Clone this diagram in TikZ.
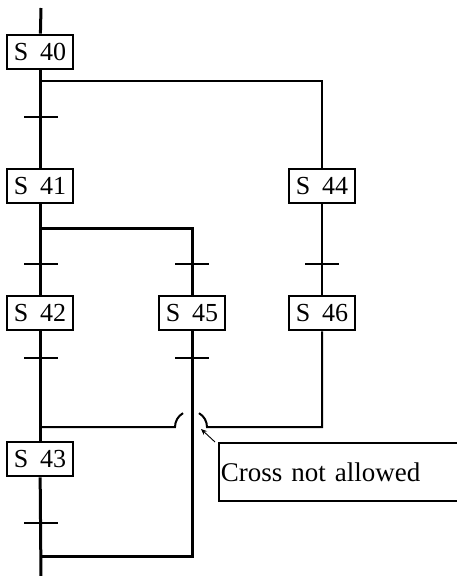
\documentclass[tikz,border=0pt]{standalone}
\usepackage{fontspec}
\setmainfont{Liberation Serif}
\usetikzlibrary{arrows.meta,positioning,calc}

\begin{document}
\begin{tikzpicture}[x=1pt, y=-1pt,
    stepbox/.style={draw, line width=2.8pt, fill=white, minimum width=66pt, minimum height=34pt, inner sep=2pt, font=\fontsize{26}{28}\selectfont},
    flow/.style={line width=3pt},
    thinflow/.style={line width=2pt},
    trans/.style={line width=1.8pt}]
  \useasboundingbox (0,0) rectangle (457,576);
  \clip (0,0) rectangle (457,576);
  % steps
  \node[stepbox] (s40) at (40,52)  {S\hspace{0.45em}40};
  \node[stepbox] (s41) at (40,186) {S\hspace{0.45em}41};
  \node[stepbox] (s44) at (322,186) {S\hspace{0.45em}44};
  \node[stepbox] (s42) at (40,313) {S\hspace{0.45em}42};
  \node[stepbox] (s45) at (192,313) {S\hspace{0.45em}45};
  \node[stepbox] (s46) at (322,313) {S\hspace{0.45em}46};
  \node[stepbox] (s43) at (40,459) {S\hspace{0.45em}43};
  % branch points and ends
  \coordinate (top) at (41,8);
  \coordinate (br1) at (41,81);
  \coordinate (br2) at (41,228);
  \coordinate (jn1) at (41,427);
  \coordinate (jn2) at (41,556);
  \coordinate (bot) at (41,580);
  % main line
  \draw[flow] (top) -- (s40);
  \draw[flow] (s40) -- (s41);
  \draw[flow] (s41) -- (s42);
  \draw[flow] (s42) -- (s43);
  \draw[flow] (s43) -- (bot);
  % right branch
  \draw[thinflow] (br1) -| (s44);
  \draw[thinflow] (s44) -- (s46);
  % middle branch
  \draw[flow] (br2) -| (s45);
  \draw[flow] (s45.south) |- (jn2);
  % crossing line with jumps
  \draw[thinflow] (jn1) -- (175,427) arc[start angle=180, end angle=240, radius=16];
  \draw[thinflow] (s46.south) |- (207,427) arc[start angle=0, end angle=-60, radius=16];
  % transitions
  \foreach \tx/\ty in {41/117, 41/264, 192/264, 322/264, 41/358, 192/358, 41/523}{
    \draw[trans] (\tx-17,\ty) -- (\tx+17,\ty);
  }
  % note
  \node[draw, line width=1.6pt, anchor=north west, minimum width=260pt, minimum height=58pt,
        inner sep=1pt, text width=256pt, align=left, font=\fontsize{27}{29}\selectfont]
        (note) at (218,442) {Cross not allowed\vphantom{\rule{0pt}{12pt}}};
  \draw[-{Stealth[length=6pt,width=5pt]}, line width=0.9pt] ($(note.north west)+(-3,0)$) -- (201,429);
\end{tikzpicture}
\end{document}
